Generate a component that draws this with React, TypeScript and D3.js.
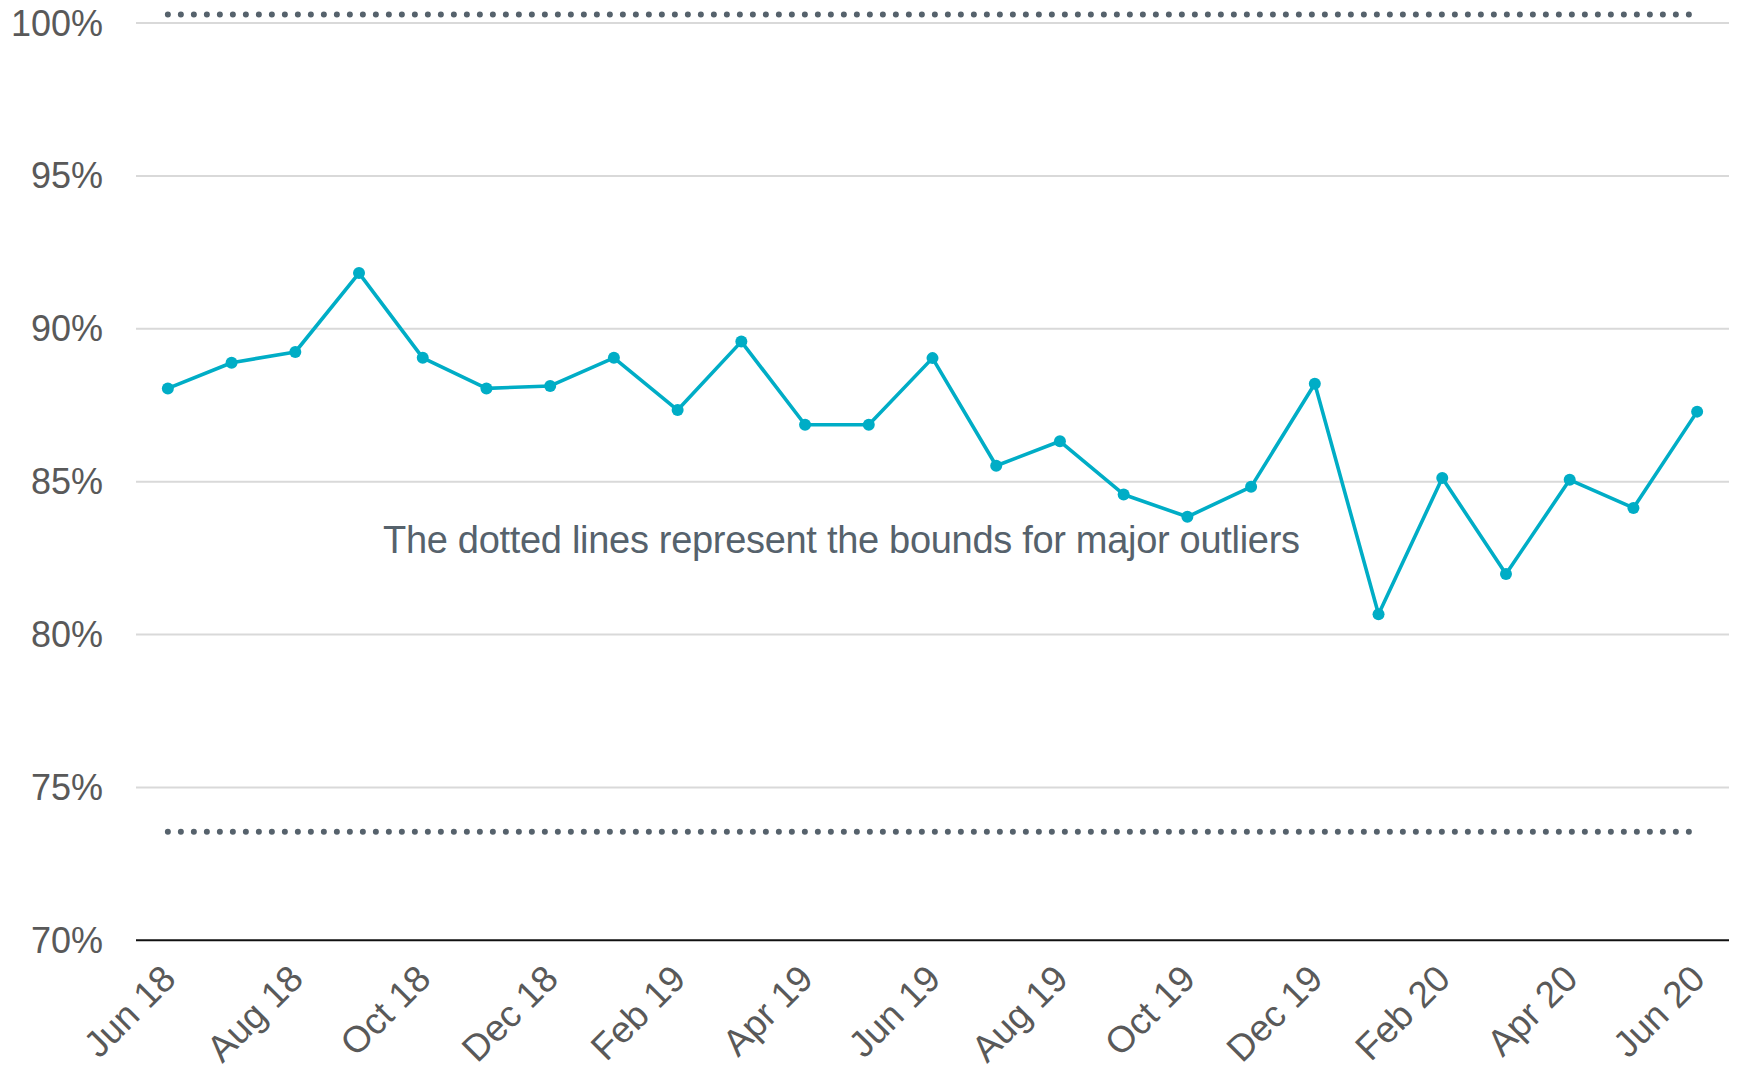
import { useRef, useEffect } from 'react';
import * as d3 from 'd3';

const months = [
  'Jun 18', 'Jul 18', 'Aug 18', 'Sep 18', 'Oct 18', 'Nov 18', 'Dec 18',
  'Jan 19', 'Feb 19', 'Mar 19', 'Apr 19', 'May 19', 'Jun 19', 'Jul 19',
  'Aug 19', 'Sep 19', 'Oct 19', 'Nov 19', 'Dec 19', 'Jan 20', 'Feb 20',
  'Mar 20', 'Apr 20', 'May 20', 'Jun 20',
];

const rate = [
  88.05, 88.89, 89.24, 91.82, 89.05, 88.05, 88.13, 89.05, 87.34, 89.58,
  86.86, 86.86, 89.04, 85.52, 86.32, 84.58, 83.85, 84.83, 88.2, 80.66,
  85.12, 81.98, 85.06, 84.14, 87.29,
];

const upperBound = 100.28;
const lowerBound = 73.55;

const yTicks = [70, 75, 80, 85, 90, 95, 100];
const xTickLabels = months.filter((_, i) => i % 2 === 0);

const note = 'The dotted lines represent the bounds for major outliers';

const W = 1739;
const H = 1070;
const plot = { left: 136, right: 1729, top: 23, bottom: 940.3 };

const teal = '#00adc6';
const slate = '#56626c';
const grey = '#595959';
const font = '"Liberation Sans", Arial, sans-serif';

export default function App() {
  const svgRef = useRef<SVGSVGElement>(null);

  useEffect(() => {
    if (!svgRef.current) return;
    const svg = d3.select(svgRef.current);
    svg.selectAll('*').remove();

    const x = d3.scaleBand<string>().domain(months).range([plot.left, plot.right]).padding(0);
    const cx = (m: string) => (x(m) ?? 0) + x.bandwidth() / 2;
    const y = d3.scaleLinear().domain([70, 100]).range([plot.bottom, plot.top]);

    // gridlines
    svg
      .append('g')
      .selectAll('line')
      .data(yTicks.filter((t) => t !== 70))
      .join('line')
      .attr('x1', plot.left)
      .attr('x2', plot.right)
      .attr('y1', (d) => y(d))
      .attr('y2', (d) => y(d))
      .attr('stroke', '#d9d9d9')
      .attr('stroke-width', 2);

    // y labels
    svg
      .append('g')
      .selectAll('text')
      .data(yTicks)
      .join('text')
      .attr('x', 103)
      .attr('y', (d) => y(d))
      .attr('dy', '0.35em')
      .attr('text-anchor', 'end')
      .attr('font-family', font)
      .attr('font-size', 36)
      .attr('fill', grey)
      .text((d) => `${d}%`);

    // x axis line
    svg
      .append('line')
      .attr('x1', plot.left)
      .attr('x2', plot.right)
      .attr('y1', y(70))
      .attr('y2', y(70))
      .attr('stroke', '#111')
      .attr('stroke-width', 2);

    // x labels
    svg
      .append('g')
      .selectAll('text')
      .data(xTickLabels)
      .join('text')
      .attr('transform', (d) => `translate(${cx(d) + 10},${981}) rotate(-45)`)
      .attr('text-anchor', 'end')
      .attr('font-family', font)
      .attr('font-size', 37)
      .attr('fill', grey)
      .text((d) => d);

    // outlier bounds (dotted)
    const flat = d3
      .line<string>()
      .x((d) => cx(d));
    for (const b of [upperBound, lowerBound]) {
      svg
        .append('path')
        .datum(months)
        .attr('d', flat.y(() => y(b)))
        .attr('fill', 'none')
        .attr('stroke', slate)
        .attr('stroke-width', 6)
        .attr('stroke-linecap', 'round')
        .attr('stroke-dasharray', '0 13');
    }

    // main series
    const pts = months.map((m, i) => [cx(m), y(rate[i])] as [number, number]);
    svg
      .append('path')
      .datum(pts)
      .attr('d', d3.line())
      .attr('fill', 'none')
      .attr('stroke', teal)
      .attr('stroke-width', 3.6)
      .attr('stroke-linejoin', 'round');

    svg
      .append('g')
      .selectAll('circle')
      .data(pts)
      .join('circle')
      .attr('cx', (d) => d[0])
      .attr('cy', (d) => d[1])
      .attr('r', 6)
      .attr('fill', teal);

    // annotation
    svg
      .append('text')
      .attr('x', 383)
      .attr('y', 553)
      .attr('font-family', font)
      .attr('font-size', 38)
      .attr('fill', slate)
      .attr('textLength', 917)
      .attr('lengthAdjust', 'spacing')
      .text(note);
  }, []);

  return (
    <svg
      ref={svgRef}
      width={W}
      height={H}
      viewBox={`0 0 ${W} ${H}`}
      style={{ position: 'absolute', left: 0, top: 0, background: '#fff' }}
    />
  );
}
